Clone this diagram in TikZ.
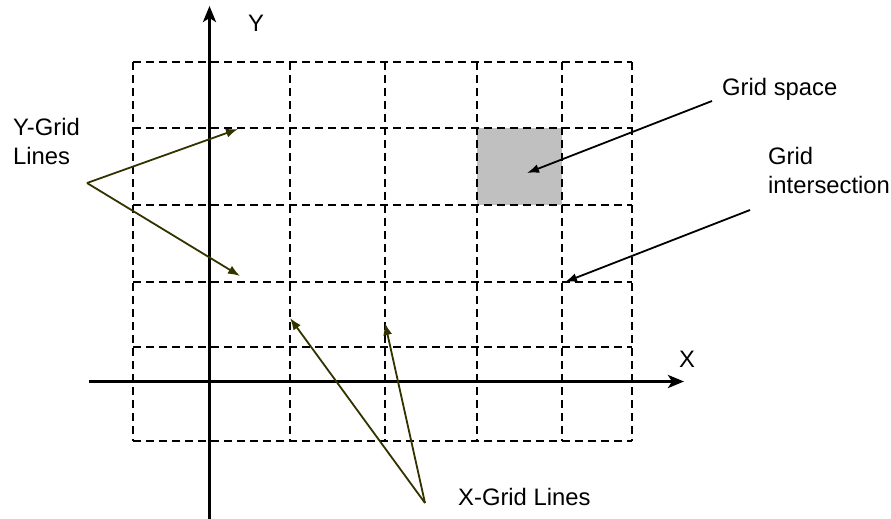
\documentclass[tikz,border=0pt]{standalone}
\usepackage{fontspec}
\setmainfont{Liberation Sans}
\usetikzlibrary{arrows.meta}
\definecolor{olive}{HTML}{333300}
\definecolor{cellgray}{HTML}{C0C0C0}
\begin{document}
\begin{tikzpicture}[x=1pt,y=-1pt,
  gridline/.style={line width=2pt, dash pattern=on 8pt off 5pt},
  axisline/.style={line width=3pt, -{Stealth[length=16pt,width=13pt,inset=4pt]}},
  olivearrow/.style={draw=olive, line width=1.8pt, -{Latex[length=12pt,width=9pt]}, color=olive},
  blackarrow/.style={draw=black, line width=1.8pt, -{Latex[length=12pt,width=9pt]}},
  lbl/.style={font=\fontsize{23.8}{28.8}\selectfont, inner sep=0pt, align=left}]
\useasboundingbox (0,0) rectangle (891,519);
% grey grid space
\fill[cellgray] (477,128) rectangle (562,205);
% grid lines
\foreach \x in {133,290,385,477,562,632}
  \draw[gridline] (\x,62) -- (\x,441);
\foreach \y in {62,128,205,282,347,441}
  \draw[gridline] (133,\y) -- (632,\y);
% axes
\coordinate (yb) at (209.5,519);
\coordinate (yt) at (209.5,6);
\coordinate (xl) at (89,381.5);
\coordinate (xr) at (684,381.5);
\draw[axisline] (yb) -- (yt);
\draw[axisline] (xl) -- (xr);
\node[lbl] (ylab) at (256,23.5) {Y};
\node[lbl] (xlab) at (687,359) {X};
% labels
\node[lbl, anchor=base west] (gs) at (722,95.5) {Grid space};
\node[lbl, anchor=base west] (gi) at (768,193) {Grid\\intersection};
\node[lbl, anchor=base west] (yg) at (13,164.5) {Y-Grid\\Lines};
\node[lbl, anchor=base west] (xg) at (458,505) {X-Grid Lines};
% arrow coordinates
\coordinate (ygs) at (87,183);
\coordinate (yge1) at (238,129);
\coordinate (yge2) at (240,276);
\coordinate (xgs) at (425,503);
\coordinate (xge1) at (290,318);
\coordinate (xge2) at (385,323);
\coordinate (gss) at (712,101);
\coordinate (gse) at (527,173);
\coordinate (gis) at (750,210);
\coordinate (gie) at (565,282);
\draw[olivearrow] (ygs) -- (yge1);
\draw[olivearrow] (ygs) -- (yge2);
\draw[olivearrow] (xgs) -- (xge1);
\draw[olivearrow] (xgs) -- (xge2);
\draw[blackarrow] (gss) -- (gse);
\draw[blackarrow] (gis) -- (gie);
\end{tikzpicture}
\end{document}
